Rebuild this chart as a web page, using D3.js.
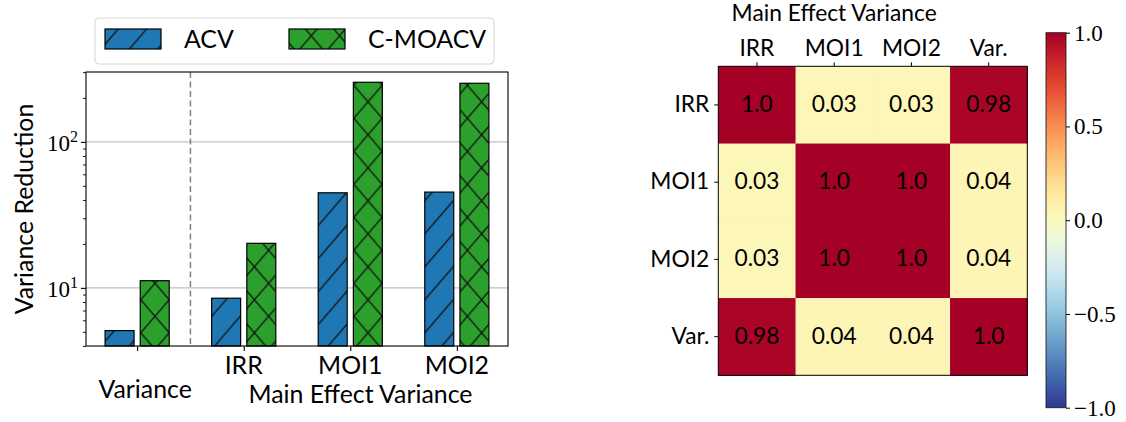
<!DOCTYPE html>
<html>
<head>
<meta charset="utf-8">
<script src="https://cdn.jsdelivr.net/npm/d3@7"></script>
<style>
  html, body { margin: 0; padding: 0; background: #fff; }
  svg { display: block; }
</style>
</head>
<body>
<svg id="chart" width="1126" height="422"></svg>
<script>
// ---------------- data ----------------
const categories = ["Variance", "IRR", "MOI1", "MOI2"];
const seriesNames = ["ACV", "C-MOACV"];
const acvValues = [5.1, 8.5, 44.8, 45.3];
const cmoacvValues = [11.2, 20.2, 256, 252];
const yMajorTicks = [10, 100];
const yMajorExponents = ["1", "2"];
const groupLabel = "Main Effect Variance";
const yAxisLabel = "Variance Reduction";

const heatLabels = ["IRR", "MOI1", "MOI2", "Var."];
const corrMatrix = [
  [1.0, 0.03, 0.03, 0.98],
  [0.03, 1.0, 1.0, 0.04],
  [0.03, 1.0, 1.0, 0.04],
  [0.98, 0.04, 0.04, 1.0]
];
const cbarTicks = [1.0, 0.5, 0.0, -0.5, -1.0];
const cbarTickLabels = ["1.0", "0.5", "0.0", "\u22120.5", "\u22121.0"];

// ---------------- helpers ----------------
const SANS = "Lato";
const SERIF = "Liberation Serif";
function fitSize(text, family, target) {
  const ctx = document.createElement("canvas").getContext("2d");
  ctx.font = `100px ${family}`;
  return 100 * target / ctx.measureText(text).width;
}
const fsLeft = fitSize(groupLabel, SANS, 225);
const fsRight = fitSize(groupLabel, SANS, 206);
const fsSerif = 23;

const svg = d3.select("#chart");
const defs = svg.append("defs");

// hatch patterns
const hw = 28.4, hh = 33;
function addHatch(id, fill, kind) {
  const p = defs.append("pattern").attr("id", id)
    .attr("patternUnits", "userSpaceOnUse")
    .attr("x", 155).attr("y", 283.3)
    .attr("width", hw).attr("height", hh);
  p.append("rect").attr("width", hw).attr("height", hh).attr("fill", fill);
  let d = `M0,${hh} L${hw},0 M${-hw*0.2},${hh*0.2} L${hw*0.2},${-hh*0.2} M${hw*0.8},${hh*1.2} L${hw*1.2},${hh*0.8}`;
  if (kind === "x") {
    d += ` M0,0 L${hw},${hh} M${-hw*0.2},${hh*0.8} L${hw*0.2},${hh*1.2} M${hw*0.8},${-hh*0.2} L${hw*1.2},${hh*0.2}`;
  }
  p.append("path").attr("d", d).attr("stroke", "#111").attr("stroke-width", 1.3).attr("fill", "none");
}
addHatch("hatchACV", "#1f77b4", "/");
addHatch("hatchCMO", "#2ca02c", "x");
const fills = ["url(#hatchACV)", "url(#hatchCMO)"];

// ---------------- left bar chart ----------------
const xL = d3.scaleLinear().domain([-0.48, 3.48]).range([86, 508]);
const yL = d3.scaleLog().domain([4.0, 301]).range([346, 72]);
const barW = 0.272, offsets = [-0.165, 0.165];
const series = [acvValues, cmoacvValues];

const gL = svg.append("g");
// grid
gL.selectAll("line.grid").data(yMajorTicks).join("line")
  .attr("x1", xL.range()[0]).attr("x2", xL.range()[1])
  .attr("y1", d => yL(d)).attr("y2", d => yL(d))
  .attr("stroke", "#b0b0b0").attr("stroke-width", 1);

// dashed separator
gL.append("line")
  .attr("x1", xL(0.5)).attr("x2", xL(0.5))
  .attr("y1", yL.range()[1]).attr("y2", yL.range()[0])
  .attr("stroke", "#808080").attr("stroke-width", 1.5)
  .attr("stroke-dasharray", "6,3.5");

// bars
series.forEach((vals, si) => {
  gL.selectAll(`rect.s${si}`).data(vals).join("rect")
    .attr("x", (d, i) => xL(i + offsets[si] - barW / 2))
    .attr("width", xL(barW) - xL(0))
    .attr("y", d => yL(d))
    .attr("height", d => yL.range()[0] - yL(d))
    .attr("fill", fills[si])
    .attr("stroke", "#000").attr("stroke-width", 1.2);
});

// frame
gL.append("rect")
  .attr("x", xL.range()[0]).attr("y", yL.range()[1])
  .attr("width", xL.range()[1] - xL.range()[0])
  .attr("height", yL.range()[0] - yL.range()[1])
  .attr("fill", "none").attr("stroke", "#000").attr("stroke-width", 1.1);

// y axis ticks (major + minor)
const minorTicks = [];
[1, 10, 100].forEach(dec => { for (let k = 2; k <= 9; k++) { const v = k * dec; if (v >= yL.domain()[0] && v <= yL.domain()[1]) minorTicks.push(v); } });
gL.append("g").attr("transform", `translate(${xL.range()[0]},0)`)
  .call(d3.axisLeft(yL).tickValues(minorTicks).tickFormat("").tickSize(3).tickSizeOuter(0))
  .call(g => g.select(".domain").remove())
  .call(g => g.selectAll("line").attr("stroke", "#000").attr("stroke-width", 0.9));
gL.append("g").attr("transform", `translate(${xL.range()[0]},0)`)
  .call(d3.axisLeft(yL).tickValues(yMajorTicks).tickFormat("").tickSize(5).tickSizeOuter(0))
  .call(g => g.select(".domain").remove())
  .call(g => g.selectAll("line").attr("stroke", "#000").attr("stroke-width", 1.1));
// y tick labels: 10^n
const yl = gL.selectAll("text.ytl").data(yMajorTicks).join("text")
  .attr("x", xL.range()[0] - 8).attr("y", d => yL(d) + 9)
  .attr("text-anchor", "end")
  .attr("font-family", SERIF).attr("font-size", fsSerif).attr("fill", "#000");
yl.append("tspan").text("10");
yl.append("tspan").attr("font-size", fsSerif * 0.7).attr("dy", -9).text((d, i) => yMajorExponents[i]);

// x axis ticks
gL.append("g").attr("transform", `translate(0,${yL.range()[0]})`)
  .call(d3.axisBottom(xL).tickValues(d3.range(categories.length)).tickFormat("").tickSize(5).tickSizeOuter(0))
  .call(g => g.select(".domain").remove())
  .call(g => g.selectAll("line").attr("stroke", "#000").attr("stroke-width", 1.1));
// x tick labels
gL.selectAll("text.xtl").data(categories).join("text")
  .attr("x", (d, i) => xL(i) + (i === 0 ? 8 : 0))
  .attr("y", (d, i) => i === 0 ? 397.5 : 374.3)
  .attr("text-anchor", "middle")
  .attr("font-family", SANS).attr("font-size", fsLeft).attr("fill", "#000")
  .text(d => d);
gL.append("text")
  .attr("x", 360.5).attr("y", 403.3)
  .attr("text-anchor", "middle")
  .attr("font-family", SANS).attr("font-size", fsLeft).attr("fill", "#000")
  .text(groupLabel);

// y axis label
gL.append("text")
  .attr("transform", `translate(33,${(yL.range()[0] + yL.range()[1]) / 2}) rotate(-90)`)
  .attr("text-anchor", "middle")
  .attr("font-family", SANS).attr("font-size", fsLeft).attr("fill", "#000")
  .text(yAxisLabel);

// legend
const lg = svg.append("g");
lg.append("rect").attr("x", 95).attr("y", 18).attr("width", 399).attr("height", 46)
  .attr("rx", 4).attr("fill", "#fff").attr("stroke", "#d6d6d6").attr("stroke-width", 1);
const legendX = [105, 289];
seriesNames.forEach((name, i) => {
  lg.append("rect").attr("x", legendX[i]).attr("y", 29).attr("width", 56).attr("height", 20)
    .attr("fill", fills[i]).attr("stroke", "#000").attr("stroke-width", 1.2);
  lg.append("text").attr("x", legendX[i] + 79).attr("y", 48.3)
    .attr("font-family", SANS).attr("font-size", fsLeft).attr("fill", "#000").text(name);
});

// ---------------- right heatmap ----------------
const xH = d3.scaleBand().domain(heatLabels).range([718.3, 1027.3]);
const yH = d3.scaleBand().domain(heatLabels).range([66.3, 375.3]);
const color = v => d3.interpolateRdYlBu((1 - v) / 2);
const fmt = v => Number.isInteger(v) ? v.toFixed(1) : String(v);
const cells = [];
corrMatrix.forEach((row, r) => row.forEach((v, c) => cells.push({ r, c, v })));
const gH = svg.append("g");
gH.selectAll("rect.cell").data(cells).join("rect")
  .attr("x", d => xH(heatLabels[d.c])).attr("y", d => yH(heatLabels[d.r]))
  .attr("width", xH.bandwidth() + 0.5).attr("height", yH.bandwidth() + 0.5)
  .attr("fill", d => color(d.v));
gH.selectAll("text.cell").data(cells).join("text")
  .attr("x", d => xH(heatLabels[d.c]) + xH.bandwidth() / 2)
  .attr("y", d => yH(heatLabels[d.r]) + yH.bandwidth() / 2)
  .attr("dy", "0.3em")
  .attr("text-anchor", "middle")
  .attr("font-family", SANS).attr("font-size", fsRight).attr("fill", "#000")
  .text(d => fmt(d.v));
gH.append("rect").attr("x", xH.range()[0]).attr("y", yH.range()[0])
  .attr("width", xH.range()[1] - xH.range()[0]).attr("height", yH.range()[1] - yH.range()[0])
  .attr("fill", "none").attr("stroke", "#000").attr("stroke-width", 1);
// top axis
gH.append("g").attr("transform", `translate(0,${yH.range()[0]})`)
  .call(d3.axisTop(xH).tickSize(4).tickSizeOuter(0).tickPadding(6))
  .call(g => g.select(".domain").remove())
  .call(g => g.selectAll("line").attr("stroke", "#000").attr("stroke-width", 1))
  .call(g => g.selectAll("text").attr("font-family", SANS).attr("font-size", fsRight).attr("fill", "#000"));
// left axis
gH.append("g").attr("transform", `translate(${xH.range()[0]},0)`)
  .call(d3.axisLeft(yH).tickSize(4).tickSizeOuter(0).tickPadding(5))
  .call(g => g.select(".domain").remove())
  .call(g => g.selectAll("line").attr("stroke", "#000").attr("stroke-width", 1))
  .call(g => g.selectAll("text").attr("font-family", SANS).attr("font-size", fsRight).attr("fill", "#000"));
// heatmap title over main-effect columns
gH.append("text")
  .attr("x", (xH(heatLabels[0]) + xH(heatLabels[2]) + xH.bandwidth()) / 2)
  .attr("y", 20.5)
  .attr("text-anchor", "middle")
  .attr("font-family", SANS).attr("font-size", fsRight).attr("fill", "#000")
  .text(groupLabel);

// ---------------- colorbar ----------------
const yC = d3.scaleLinear().domain([-1, 1]).range([407.7, 32.7]);
const grad = defs.append("linearGradient").attr("id", "cbarGrad")
  .attr("x1", 0).attr("y1", 1).attr("x2", 0).attr("y2", 0);
d3.range(0, 1.0001, 0.02).forEach(t => {
  grad.append("stop").attr("offset", t).attr("stop-color", color(-1 + 2 * t));
});
const cbX = 1046, cbW = 20;
svg.append("rect").attr("x", cbX).attr("y", yC(1)).attr("width", cbW).attr("height", yC(-1) - yC(1))
  .attr("fill", "url(#cbarGrad)").attr("stroke", "#222").attr("stroke-width", 0.9);
svg.append("g").attr("transform", `translate(${cbX + cbW},0)`)
  .call(d3.axisRight(yC).tickValues(cbarTicks).tickFormat((d, i) => cbarTickLabels[i]).tickSize(4).tickSizeOuter(0).tickPadding(4))
  .call(g => g.select(".domain").remove())
  .call(g => g.selectAll("line").attr("stroke", "#000").attr("stroke-width", 1))
  .call(g => g.selectAll("text").attr("font-family", SERIF).attr("font-size", fsSerif).attr("fill", "#000"));
</script>
</body>
</html>
